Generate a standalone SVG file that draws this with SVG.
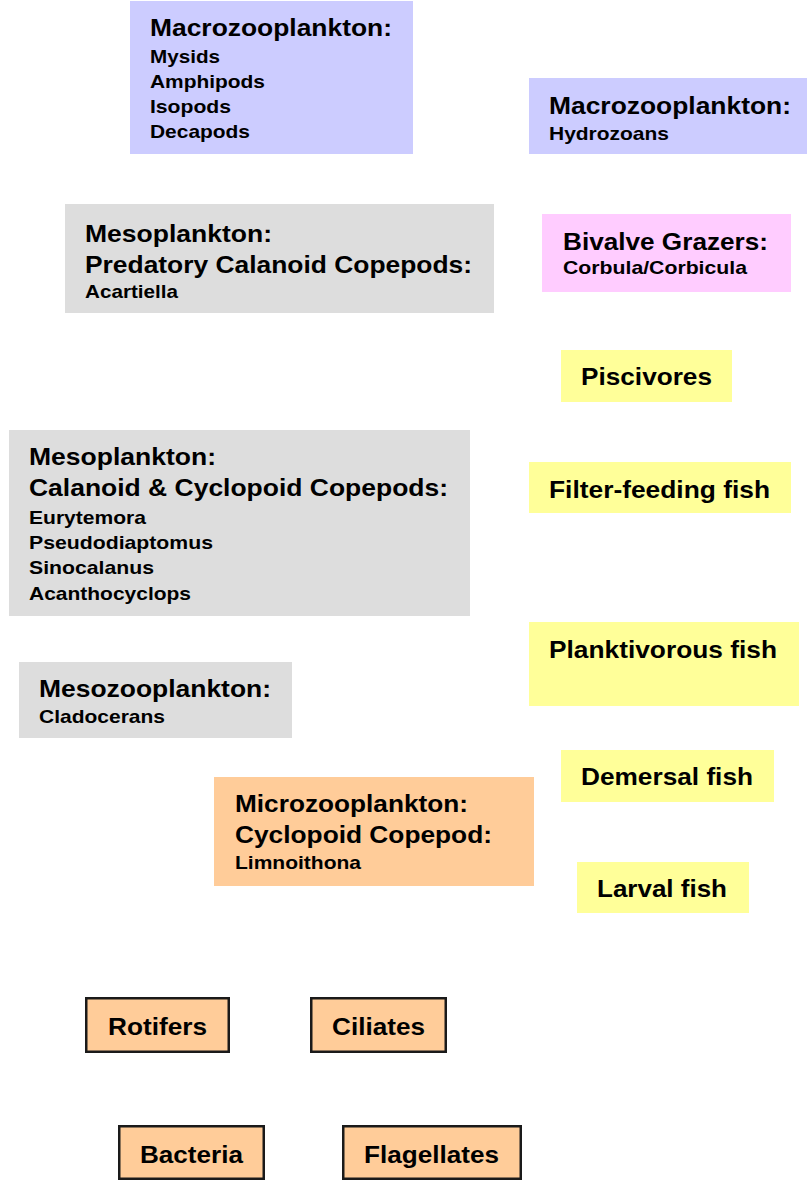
<svg xmlns="http://www.w3.org/2000/svg" width="807" height="1181" viewBox="0 0 807 1181">
<style>
text{font-family:"Liberation Sans",Arial,sans-serif;font-weight:bold;fill:#000}
.h{font-size:24px}
.s{font-size:18.5px}
.lav{fill:#CCCCFF}
.gry{fill:#DDDDDD}
.pnk{fill:#FFCCFF}
.yel{fill:#FFFF99}
.org{fill:#FFCC99}
.box{fill:#FFCC99;stroke:#1a1a1a;stroke-width:2.5}
</style>
<rect width="807" height="1181" fill="#fff"/>
<g id="connectors"></g>
<g id="macro-mysids">
<rect class="lav" x="130" y="1" width="283" height="153"/>
<text class="h" x="150" y="35.5" textLength="242" lengthAdjust="spacingAndGlyphs">Macrozooplankton:</text>
<text class="s" x="150" y="63" textLength="70" lengthAdjust="spacingAndGlyphs">Mysids</text>
<text class="s" x="150" y="88" textLength="115" lengthAdjust="spacingAndGlyphs">Amphipods</text>
<text class="s" x="150" y="113" textLength="81" lengthAdjust="spacingAndGlyphs">Isopods</text>
<text class="s" x="150" y="138" textLength="100" lengthAdjust="spacingAndGlyphs">Decapods</text>
</g>
<g id="macro-hydrozoans">
<rect class="lav" x="529" y="78" width="278" height="76"/>
<text class="h" x="549" y="114" textLength="242" lengthAdjust="spacingAndGlyphs">Macrozooplankton:</text>
<text class="s" x="549" y="140" textLength="120" lengthAdjust="spacingAndGlyphs">Hydrozoans</text>
</g>
<g id="meso-predatory">
<rect class="gry" x="65" y="204" width="429" height="109"/>
<text class="h" x="85" y="242" textLength="187" lengthAdjust="spacingAndGlyphs">Mesoplankton:</text>
<text class="h" x="85" y="273" textLength="387" lengthAdjust="spacingAndGlyphs">Predatory Calanoid Copepods:</text>
<text class="s" x="85" y="298" textLength="93" lengthAdjust="spacingAndGlyphs">Acartiella</text>
</g>
<g id="bivalve">
<rect class="pnk" x="542" y="214" width="249" height="78"/>
<text class="h" x="563" y="250" textLength="205" lengthAdjust="spacingAndGlyphs">Bivalve Grazers:</text>
<text class="s" x="563" y="274" textLength="184" lengthAdjust="spacingAndGlyphs">Corbula/Corbicula</text>
</g>
<g id="piscivores">
<rect class="yel" x="561" y="350" width="171" height="52"/>
<text class="h" x="581" y="385" textLength="131" lengthAdjust="spacingAndGlyphs">Piscivores</text>
</g>
<g id="meso-calanoid">
<rect class="gry" x="9" y="430" width="461" height="186"/>
<text class="h" x="29" y="465" textLength="187" lengthAdjust="spacingAndGlyphs">Mesoplankton:</text>
<text class="h" x="29" y="496" textLength="419" lengthAdjust="spacingAndGlyphs">Calanoid &amp; Cyclopoid Copepods:</text>
<text class="s" x="29" y="524" textLength="117" lengthAdjust="spacingAndGlyphs">Eurytemora</text>
<text class="s" x="29" y="549" textLength="184" lengthAdjust="spacingAndGlyphs">Pseudodiaptomus</text>
<text class="s" x="29" y="574" textLength="125" lengthAdjust="spacingAndGlyphs">Sinocalanus</text>
<text class="s" x="29" y="600" textLength="162" lengthAdjust="spacingAndGlyphs">Acanthocyclops</text>
</g>
<g id="filter-feeding">
<rect class="yel" x="529" y="462" width="262" height="51"/>
<text class="h" x="549" y="498" textLength="221" lengthAdjust="spacingAndGlyphs">Filter-feeding fish</text>
</g>
<g id="planktivorous">
<rect class="yel" x="529" y="622" width="270" height="84"/>
<text class="h" x="549" y="658" textLength="228" lengthAdjust="spacingAndGlyphs">Planktivorous fish</text>
</g>
<g id="mesozoo">
<rect class="gry" x="19" y="662" width="273" height="76"/>
<text class="h" x="39" y="697" textLength="232" lengthAdjust="spacingAndGlyphs">Mesozooplankton:</text>
<text class="s" x="39" y="723" textLength="126" lengthAdjust="spacingAndGlyphs">Cladocerans</text>
</g>
<g id="demersal">
<rect class="yel" x="561" y="750" width="213" height="52"/>
<text class="h" x="581" y="785" textLength="172" lengthAdjust="spacingAndGlyphs">Demersal fish</text>
</g>
<g id="microzoo">
<rect class="org" x="214" y="777" width="320" height="109"/>
<text class="h" x="235" y="812" textLength="233" lengthAdjust="spacingAndGlyphs">Microzooplankton:</text>
<text class="h" x="235" y="843" textLength="257" lengthAdjust="spacingAndGlyphs">Cyclopoid Copepod:</text>
<text class="s" x="235" y="869" textLength="126" lengthAdjust="spacingAndGlyphs">Limnoithona</text>
</g>
<g id="larval">
<rect class="yel" x="577" y="862" width="172" height="51"/>
<text class="h" x="597" y="897" textLength="130" lengthAdjust="spacingAndGlyphs">Larval fish</text>
</g>
<g id="rotifers">
<rect class="box" x="86.25" y="998.25" width="142.5" height="53.5"/>
<text class="h" x="108" y="1035" textLength="99" lengthAdjust="spacingAndGlyphs">Rotifers</text>
</g>
<g id="ciliates">
<rect class="box" x="311.25" y="998.25" width="134.5" height="53.5"/>
<text class="h" x="332" y="1035" textLength="93" lengthAdjust="spacingAndGlyphs">Ciliates</text>
</g>
<g id="bacteria">
<rect class="box" x="119.25" y="1126.25" width="144.5" height="52.5"/>
<text class="h" x="140" y="1163" textLength="103" lengthAdjust="spacingAndGlyphs">Bacteria</text>
</g>
<g id="flagellates">
<rect class="box" x="343.25" y="1126.25" width="177.5" height="52.5"/>
<text class="h" x="364" y="1163" textLength="135" lengthAdjust="spacingAndGlyphs">Flagellates</text>
</g>
</svg>
